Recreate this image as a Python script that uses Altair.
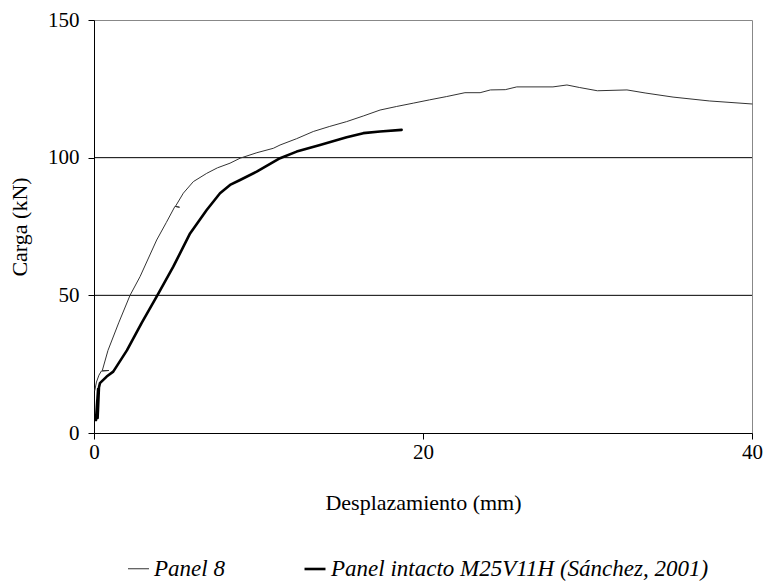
import altair as alt
import pandas as pd

# Panel 8 (thin line)
p8_x = [0.05, 0.15, 0.3, 0.45, 0.9, 0.5, 0.85, 1.5, 2.19, 2.8, 3.81, 4.4, 4.92, 5.2, 4.95,
        5.43, 6.04, 6.85, 7.5, 8.27, 8.88, 9.9, 10.9, 11.31, 12.32, 13.33, 14.3, 15.36,
        16.4, 17.39, 18.4, 19.41, 20.4, 21.44, 22.55, 23.47, 24.1, 25.0, 25.7, 27.9, 28.75,
        29.5, 30.6, 32.4, 33.5, 35.2, 37.4, 40.0]
p8_y = [15.5, 18.5, 21.0, 22.5, 22.7, 22.6, 30.0, 40.0, 50.0, 56.8, 70.1, 76.5, 82.3, 82.0, 82.3,
        87.1, 91.3, 94.3, 96.3, 98.0, 99.8, 101.8, 103.4, 104.6, 106.9, 109.5, 111.3, 113.1,
        115.2, 117.3, 118.6, 119.8, 121.0, 122.2, 123.6, 123.6, 124.6, 124.7, 125.7, 125.7, 126.4,
        125.5, 124.3, 124.6, 123.5, 122.0, 120.6, 119.5]

# Panel intacto M25V11H (thick line)
pi_x = [0.12, 0.2, 0.15, 0.25, 0.18, 0.28, 0.22, 0.3, 0.36, 0.77, 1.17, 2.0, 2.9, 3.85,
        4.82, 5.84, 6.85, 7.66, 8.27, 8.88, 9.89, 11.31, 12.32, 13.74, 15.36, 16.37, 17.39, 18.7]
pi_y = [4.7, 12.0, 7.0, 16.0, 9.0, 14.0, 5.5, 16.5, 18.1, 20.5, 22.3, 30.0, 40.0, 50.0,
        60.4, 72.5, 81.0, 87.1, 90.1, 91.9, 94.9, 99.8, 102.2, 104.6, 107.4, 108.9, 109.5, 110.1]

series_names = ["Panel 8", "Panel intacto M25V11H (Sánchez, 2001)"]
grid_values = [50, 100]

rows = []
for i, (x, y) in enumerate(zip(p8_x, p8_y)):
    rows.append({"x": x, "y": y, "s": series_names[0], "i": i})
for i, (x, y) in enumerate(zip(pi_x, pi_y)):
    rows.append({"x": x, "y": y, "s": series_names[1], "i": i})
df = pd.DataFrame(rows)

FONT = "Liberation Serif"

xs = alt.Scale(domain=[0, 40], nice=False)
ys = alt.Scale(domain=[0, 150], nice=False)

legend_cfg = dict(title=None, orient="none", legendX=33, legendY=537,
                  direction="horizontal", symbolType="stroke",
                  symbolSize=440, labelFont=FONT, labelFontSize=23,
                  labelFontStyle="italic", labelColor="#000000", labelLimit=0,
                  columnPadding=74, labelOffset=4, padding=0)

grid = alt.Chart(pd.DataFrame({"g": grid_values})).mark_rule(
    color="#000000", strokeWidth=1
).encode(y=alt.Y("g:Q", scale=ys))

lines = alt.Chart(df).mark_line(strokeJoin="round", strokeCap="round").encode(
    x=alt.X("x:Q", scale=xs,
            axis=alt.Axis(values=[0, 20, 40], title="Desplazamiento (mm)", grid=False,
                          tickSize=6, labelPadding=2, titlePadding=30, labelFlush=False)),
    y=alt.Y("y:Q", scale=ys,
            axis=alt.Axis(values=[0, 50, 100, 150], title="Carga (kN)", grid=False,
                          tickSize=6, labelPadding=9, titlePadding=16, labelFlush=False)),
    order="i:Q",
    color=alt.Color("s:N", scale=alt.Scale(domain=series_names, range=["#333333", "#000000"]),
                    legend=alt.Legend(**legend_cfg)),
    strokeWidth=alt.StrokeWidth("s:N", scale=alt.Scale(domain=series_names, range=[1, 2.6]),
                                legend=alt.Legend(**legend_cfg)),
)

chart = alt.layer(grid, lines).properties(
    width=658, height=413,
    background="white",
    autosize=alt.AutoSizeParams(type="none"),
    padding={"left": 94, "top": 20, "right": 14, "bottom": 149},
).configure_view(
    stroke="#888888", strokeWidth=1
).configure_axis(
    domainColor="#000000", tickColor="#000000", labelColor="#000000", titleColor="#000000",
    labelFont=FONT, titleFont=FONT, labelFontSize=21, titleFontSize=22,
    titleFontWeight="normal", domainWidth=1, tickWidth=1
)

chart.save("out.html", embed_options={"renderer": "svg", "actions": False})
